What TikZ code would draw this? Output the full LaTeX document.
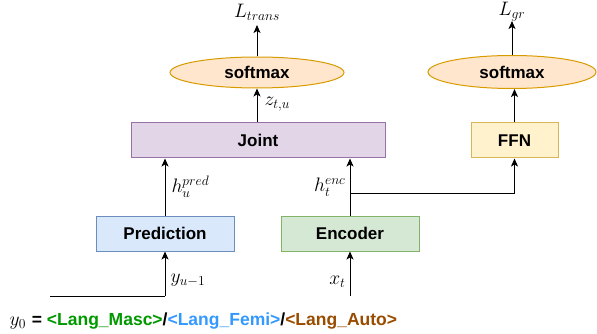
\documentclass[tikz,border=0pt]{standalone}
\usepackage{fix-cm}
\usepackage{fontspec}
\setsansfont{Liberation Sans}
\usetikzlibrary{shapes.geometric}
\usetikzlibrary{arrows.meta}
\definecolor{predfill}{HTML}{DAE8FC}
\definecolor{preddraw}{HTML}{6C8EBF}
\definecolor{encfill}{HTML}{D5E8D4}
\definecolor{encdraw}{HTML}{82B366}
\definecolor{jointfill}{HTML}{E1D5E7}
\definecolor{jointdraw}{HTML}{9673A6}
\definecolor{ffnfill}{HTML}{FFF2CC}
\definecolor{ffndraw}{HTML}{D6B656}
\definecolor{smfill}{HTML}{FFE6CC}
\definecolor{smdraw}{HTML}{D79B00}
\definecolor{masc}{HTML}{009900}
\definecolor{femi}{HTML}{3399FF}
\definecolor{auto}{HTML}{994C00}
\tikzset{
  block/.style={draw,minimum height=35pt,inner sep=0pt,font=\sffamily\bfseries\fontsize{17}{20}\selectfont},
  smax/.style={ellipse,draw=smdraw,fill=smfill,inner sep=0pt,font=\sffamily\bfseries\fontsize{17}{20}\selectfont},
  lbl/.style={inner sep=1pt,font=\fontsize{19.5}{22}\selectfont}
}
\begin{document}
\begin{tikzpicture}[>={Stealth[length=8pt,width=7pt,inset=2pt]},x=1pt,y=-1pt,line width=1pt]
\useasboundingbox (0,0) rectangle (597,334);
% blocks
\node[block,draw=preddraw,fill=predfill,minimum width=138pt] (pred) at (165,233.5) {Prediction};
\node[block,draw=encdraw,fill=encfill,minimum width=138pt] (enc) at (350,233.5) {Encoder};
\node[block,draw=jointdraw,fill=jointfill,minimum width=254pt] (joint) at (258,140.5) {Joint};
\node[block,draw=ffndraw,fill=ffnfill,minimum width=87pt] (ffn) at (514.5,140.5) {FFN};
\node[smax,minimum width=174pt,minimum height=31pt] (sm1) at (257,72.5) {softmax};
\node[smax,minimum width=168pt,minimum height=33pt] (sm2) at (512,72) {softmax};
% outputs
\coordinate (ltop) at (257,25);
\coordinate (gtop) at (512,21);
\node[lbl,anchor=base] (ltrans) at (257,18) {$L_{trans}$};
\node[lbl,anchor=base] (lgr) at (512,16) {$L_{gr}$};
% inputs
\coordinate (ystart) at (50,296);
\coordinate (ycorner) at (165,296);
\coordinate (xstart) at (350,296);
\coordinate (branch) at (350,193);
\draw (ystart) -- (ycorner);
\draw[->] (ycorner) -- (pred.south);
\draw[->] (xstart) -- (enc.south);
\draw[->] (pred.north) -- (pred.north |- joint.south);
\draw[->] (enc.north) -- (enc.north |- joint.south);
\draw[->] (branch) -| (ffn.south);
\draw[->] (sm1.south |- joint.north) -- (sm1.south);
\draw[->] (sm1.north) -- (ltop);
\draw[->] (ffn.north) -- (ffn.north |- sm2.south);
\draw[->] (sm2.north) -- (gtop);
% edge labels
\node[lbl,anchor=west] (zlbl) at (263,104) {$z_{t,u}$};
\node[lbl,anchor=west] (hpred) at (170,187) {$h_u^{pred}$};
\node[lbl,anchor=east] (henc) at (347,187) {$h_t^{enc}$};
\node[lbl,anchor=west] (ylbl) at (169,280) {$y_{u-1}$};
\node[lbl,anchor=east] (xlbl) at (347,282) {$x_t$};
% prompt tokens
\node[lbl,anchor=west] (tokens) at (8,321) {$y_0$ \textsf{\bfseries\fontsize{17.5}{20}\selectfont = \textcolor{masc}{<Lang\_Masc>}/\textcolor{femi}{<Lang\_Femi>}/\textcolor{auto}{<Lang\_Auto>}}};
\end{tikzpicture}
\end{document}
